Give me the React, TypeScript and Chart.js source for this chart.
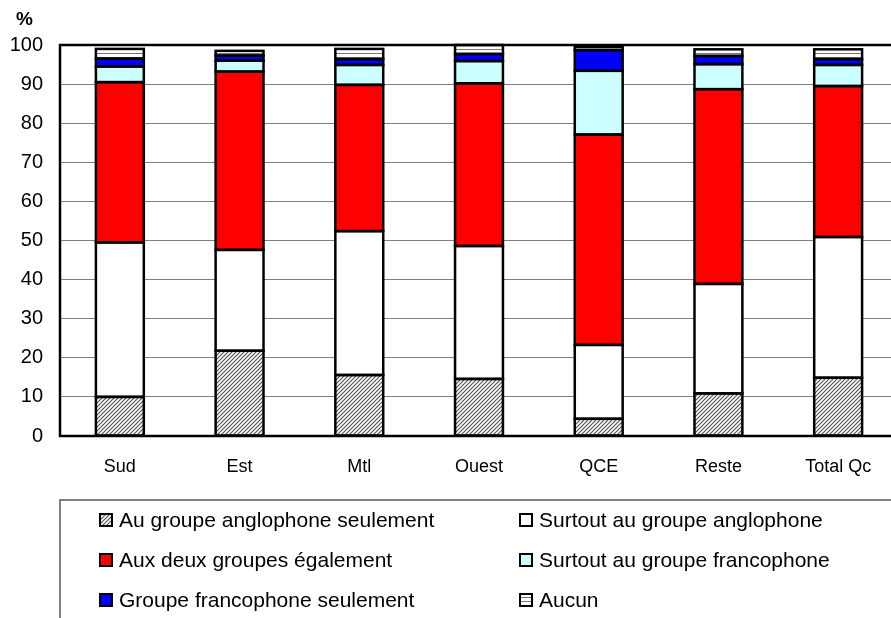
import React, { useEffect, useRef } from "react";
import { Chart, registerables } from "chart.js";

Chart.register(...registerables);

const categories = ["Sud", "Est", "Mtl", "Ouest", "QCE", "Reste", "Total Qc"];
const angloSeul = [10, 21.8, 15.6, 14.6, 4.4, 10.9, 14.9];
const surtoutAnglo = [39.5, 25.8, 36.8, 34, 18.9, 28, 36];
const deuxGroupes = [41, 45.6, 37.4, 41.6, 53.8, 49.8, 38.6];
const surtoutFranco = [4, 2.8, 5.1, 5.7, 16.3, 6.4, 5.4];
const francoSeul = [2, 1.3, 1.5, 1.8, 5.3, 2.1, 1.5];
const aucun = [2.5, 1.2, 2.6, 2.3, 0.8, 1.7, 2.5];
const seriesNames = [
  "Au groupe anglophone seulement",
  "Surtout au groupe anglophone",
  "Aux deux groupes également",
  "Surtout au groupe francophone",
  "Groupe francophone seulement",
  "Aucun",
];
const yTicks = [0, 10, 20, 30, 40, 50, 60, 70, 80, 90, 100];

const FONT = "'Liberation Sans', Arial, sans-serif";

function makeHatch(): CanvasPattern | string {
  const c = document.createElement("canvas");
  c.width = 4;
  c.height = 4;
  const g = c.getContext("2d");
  if (!g) return "#999";
  g.fillStyle = "#ffffff";
  g.fillRect(0, 0, 4, 4);
  g.strokeStyle = "#555555";
  g.lineWidth = 1.2;
  g.beginPath();
  g.moveTo(-1, 5);
  g.lineTo(5, -1);
  g.moveTo(-1, 1);
  g.lineTo(1, -1);
  g.moveTo(3, 5);
  g.lineTo(5, 3);
  g.stroke();
  const p = g.createPattern(c, "repeat");
  return p || "#999";
}

function makeHoriz(): CanvasPattern | string {
  const c = document.createElement("canvas");
  c.width = 4;
  c.height = 4;
  const g = c.getContext("2d");
  if (!g) return "#ccc";
  g.fillStyle = "#ffffff";
  g.fillRect(0, 0, 4, 4);
  g.fillStyle = "#777777";
  g.fillRect(0, 1, 4, 1);
  const p = g.createPattern(c, "repeat");
  return p || "#ccc";
}

export default function App() {
  const ref = useRef<HTMLCanvasElement | null>(null);

  useEffect(() => {
    if (!ref.current) return;
    const hatch = makeHatch();
    const horiz = makeHoriz();
    const fills: any[] = [hatch, "#ffffff", "#ff0000", "#ccffff", "#0000ff", horiz];
    const values = [angloSeul, surtoutAnglo, deuxGroupes, surtoutFranco, francoSeul, aucun];

    const framePlugin = {
      id: "frame",
      afterDatasetsDraw(chart: any) {
        const ctx = chart.ctx as CanvasRenderingContext2D;
        ctx.save();
        ctx.strokeStyle = "#000";
        ctx.lineWidth = 2.5;
        chart.data.datasets.forEach((_ds: any, i: number) => {
          const meta = chart.getDatasetMeta(i);
          meta.data.forEach((el: any) => {
            const left = el.x - el.width / 2;
            const top = Math.min(el.y, el.base);
            const h = Math.abs(el.base - el.y);
            ctx.strokeRect(left, top, el.width, h);
          });
        });
        ctx.restore();
      },
      afterDraw(chart: any) {
        const ctx = chart.ctx as CanvasRenderingContext2D;
        const a = chart.chartArea;
        ctx.save();
        ctx.strokeStyle = "#000";
        ctx.lineWidth = 2.5;
        ctx.strokeRect(a.left, a.top, a.right - a.left, a.bottom - a.top);
        ctx.fillStyle = "#000";
        ctx.font = `bold 19px ${FONT}`;
        ctx.textAlign = "left";
        ctx.textBaseline = "middle";
        ctx.fillText("%", 16, 20);

        // legend
        ctx.strokeStyle = "#808080";
        ctx.lineWidth = 2;
        ctx.strokeRect(60, 500, 860, 140);
        ctx.font = `21px ${FONT}`;
        const cols = [100, 520];
        const rows = [520, 560, 600];
        chart.data.datasets.forEach((ds: any, i: number) => {
          const x = cols[i % 2];
          const y = rows[Math.floor(i / 2)];
          ctx.fillStyle = ds.backgroundColor;
          ctx.fillRect(x, y - 6, 12, 12);
          ctx.strokeStyle = "#000";
          ctx.lineWidth = 2;
          ctx.strokeRect(x, y - 6, 12, 12);
          ctx.fillStyle = "#000";
          ctx.fillText(ds.label, x + 19, y + 1);
        });
        ctx.restore();
      },
    };

    const chart = new Chart(ref.current, {
      type: "bar",
      data: {
        labels: categories,
        datasets: values.map((v, i) => ({
          label: seriesNames[i],
          data: v,
          backgroundColor: fills[i],
          borderWidth: 0,
          categoryPercentage: 1,
          barPercentage: 0.4,
        })),
      },
      options: {
        responsive: false,
        animation: false,
        layout: { padding: { left: 0, top: 45, right: 0, bottom: 0 } },
        plugins: { legend: { display: false }, tooltip: { enabled: false } },
        scales: {
          x: {
            stacked: true,
            grid: { display: false },
            border: { display: false },
            ticks: { color: "#000", font: { family: FONT, size: 18 }, padding: 12 },
            afterFit(scale: any) {
              scale.height = 182;
            },
          },
          y: {
            stacked: true,
            min: 0,
            max: 100,
            afterBuildTicks(scale: any) {
              scale.ticks = yTicks.map((v) => ({ value: v }));
            },
            grid: { color: "#808080", lineWidth: 1, drawTicks: false },
            border: { display: false },
            ticks: { color: "#000", font: { family: FONT, size: 20 }, padding: 17 },
            afterFit(scale: any) {
              scale.width = 60;
            },
          },
        },
      },
      plugins: [framePlugin],
    });
    return () => chart.destroy();
  }, []);

  return (
    <div
      style={{
        position: "fixed",
        left: 0,
        top: 0,
        width: 891,
        height: 618,
        overflow: "hidden",
        background: "#fff",
      }}
    >
      <canvas ref={ref} width={898} height={618} style={{ display: "block" }} />
    </div>
  );
}
